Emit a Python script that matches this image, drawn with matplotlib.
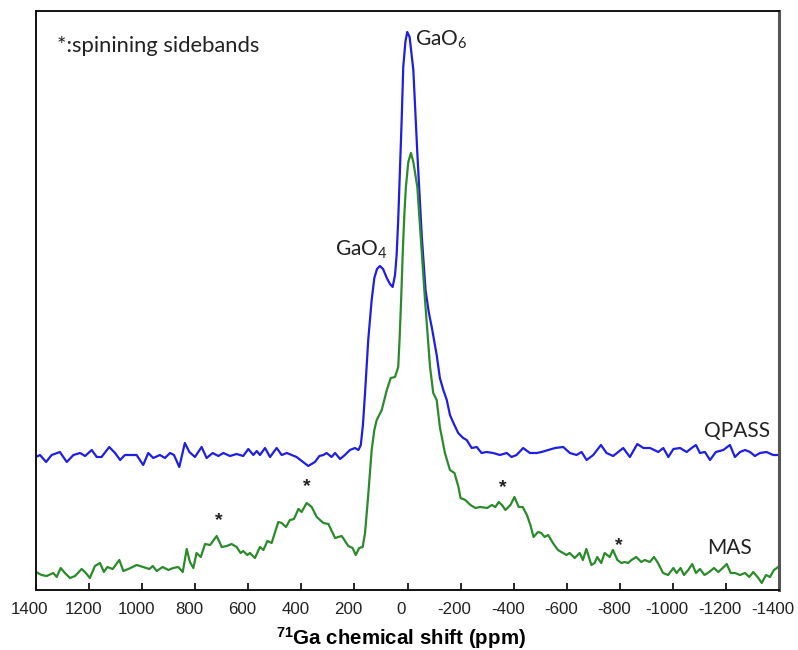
import matplotlib
matplotlib.use("Agg")
import matplotlib.pyplot as plt
import matplotlib.transforms as mtransforms
import numpy as np

plt.rcParams['mathtext.fontset'] = 'custom'
plt.rcParams['mathtext.rm'] = 'Lato'
plt.rcParams['mathtext.bf'] = 'Liberation Sans:bold'

# 71Ga NMR spectra (chemical shift in ppm, intensity in arbitrary units incl. vertical offset)
qpass_ppm = [1400, 1385, 1362, 1341, 1310, 1284, 1259, 1234, 1215, 1190, 1171, 1153, 1124, 1102,
             1083, 1065, 1021, 996, 977, 958, 933, 914, 895, 880, 860, 839, 822, 801, 776, 757,
             734, 713, 694, 669, 644, 619, 600, 581, 568, 556, 537, 518, 493, 474, 455, 418, 374,
             349, 332, 317, 305, 286, 273, 254, 236, 217, 198, 185, 176, 168, 160, 148, 135, 125,
             115, 104, 92, 78, 66, 56, 47, 41, 35, 28, 22, 16, 8, 1, -8, -22, -37, -54, -68, -80,
             -92, -100, -110, -122, -135, -148, -160, -175, -191, -210, -223, -242, -261, -279,
             -298, -323, -348, -374, -392, -411, -436, -461, -487, -505, -531, -556, -587, -612,
             -637, -656, -675, -700, -729, -750, -775, -794, -813, -838, -866, -889, -914, -945,
             -964, -983, -1002, -1027, -1052, -1071, -1087, -1102, -1121, -1140, -1162, -1190,
             -1215, -1234, -1253, -1272, -1291, -1309, -1328, -1353, -1378, -1397]
qpass_int = [133, 135, 128, 135, 138, 128, 135, 137, 134, 140, 133, 133, 143, 137,
             130, 135, 135, 125, 137, 132, 135, 132, 137, 135, 123, 147, 138, 133, 143, 132,
             137, 134, 137, 134, 136, 134, 141, 135, 139, 135, 142, 133, 142, 135, 137, 133, 124,
             128, 134, 135, 137, 133, 137, 131, 135, 140, 142, 140, 145, 165, 197, 250, 290, 312,
             321, 324, 321, 312, 306, 303, 315, 335, 370, 423, 470, 523, 548, 558, 553, 520, 437, 353, 300, 278,
             262, 250, 235, 212, 200, 190, 175, 166, 157, 152, 150, 142, 143, 137,
             138, 137, 135, 137, 133, 135, 142, 137, 137, 138, 140, 142, 143, 137,
             135, 138, 130, 135, 145, 137, 134, 138, 142, 133, 146, 142, 142, 138,
             142, 133, 141, 142, 138, 142, 145, 137, 138, 130, 138, 140,
             145, 133, 138, 140, 138, 134, 137, 138, 135, 135]

mas_ppm = [1400, 1379, 1360, 1335, 1322, 1307, 1291, 1272, 1253, 1228, 1212, 1197, 1178, 1159,
           1144, 1131, 1111, 1086, 1071, 1052, 1021, 996, 973, 960, 945, 923, 901, 883, 864, 847,
           832, 820, 807, 795, 779, 763, 744, 719, 700, 681, 663, 644, 629, 619, 604, 594, 575,
           556, 543, 528, 512, 487, 474, 458, 443, 428, 411, 399, 380, 361, 342, 317, 298, 273,
           248, 223, 207, 195, 182, 169, 160, 148, 135, 125, 116, 97, 78, 63, 47, 35, 30, 24, 18,
           12, 6, -3, -13, -22, -37, -54, -66, -76, -85, -97, -110, -122, -141, -160, -177, -192,
           -200, -218, -237, -256, -274, -300, -318, -331, -344, -356, -369, -388, -403, -419,
           -434, -450, -463, -475, -492, -504, -517, -530, -548, -567, -580, -599, -611, -630,
           -649, -661, -674, -693, -705, -715, -730, -743, -762, -774, -791, -806, -818, -831,
           -844, -862, -881, -894, -913, -929, -944, -963, -982, -1002, -1014, -1029, -1042,
           -1058, -1073, -1087, -1102, -1119, -1137, -1155, -1171, -1188, -1203, -1218, -1234,
           -1253, -1272, -1288, -1303, -1322, -1335, -1351, -1366, -1381, -1397]
mas_int = [18, 15, 14, 17, 13, 22, 17, 12, 14, 21, 17, 12, 24, 27,
           18, 23, 21, 30, 19, 21, 25, 23, 21, 24, 19, 23, 20, 22, 23, 18,
           41, 28, 22, 37, 33, 46, 45, 54, 43, 44, 46, 43, 37, 39, 35, 37, 32,
           43, 40, 49, 47, 68, 67, 63, 70, 71, 81, 78, 87, 83, 73, 67, 66, 52,
           54, 44, 42, 35, 42, 43, 57, 95, 140, 160, 170, 180, 200, 212, 213, 223, 250, 290, 337,
           375, 403, 428, 437, 428, 403, 337, 290, 255, 223, 197, 190, 163, 137, 120, 117, 103,
           92, 90, 85, 82, 83, 82, 85, 83, 88, 85, 80, 85, 93, 83,
           83, 75, 65, 53, 58, 57, 53, 55, 47, 40, 38, 35, 37, 32,
           37, 30, 41, 25, 27, 33, 27, 37, 33, 40, 30, 27, 28, 27,
           30, 33, 28, 30, 28, 33, 27, 17, 15, 22, 17, 22, 15,
           20, 26, 17, 21, 15, 18, 22, 18, 22, 26, 17, 17,
           15, 17, 13, 18, 12, 7, 15, 13, 20, 23]

ticks = [1400, 1200, 1000, 800, 600, 400, 200, 0, -200, -400, -600, -800, -1000, -1200, -1400]
sideband_ppm = [710, 379, -360, -797]
sideband_int = [69, 103, 102, 44]

fig = plt.figure(figsize=(7.98, 6.5), dpi=100)
ax = fig.add_axes([36 / 798, 60 / 650, 743 / 798, 579 / 650])

ax.plot(qpass_ppm, qpass_int, color='#1f1fe0', lw=1.6, solid_joinstyle='round')
ax.plot(mas_ppm, mas_int, color='#2b8a2b', lw=1.6, solid_joinstyle='round')

ax.set_xlim(1400, -1400)
ax.set_ylim(0, 579)
ax.set_yticks([])
ax.set_xticks(ticks)
ax.set_xticklabels([str(t) for t in ticks], fontfamily='Liberation Sans', fontsize=12.2,
                   color='#222222')
ax.tick_params(axis='x', direction='in', length=5, width=1.2, pad=9)

# nudge the tick labels slightly left so the outermost one stays inside the canvas
shift = mtransforms.ScaledTranslation(-6 / 100, 0, fig.dpi_scale_trans)
for lab in ax.get_xticklabels():
    lab.set_transform(lab.get_transform() + shift)

for side in ['left', 'bottom', 'top']:
    ax.spines[side].set_linewidth(1.4)
    ax.spines[side].set_color('#111111')
ax.spines['right'].set_linewidth(2.2)
ax.spines['right'].set_color('#555555')

ax.set_xlabel(r'$\mathbf{^{71}}$Ga chemical shift (ppm)', fontfamily='Liberation Sans',
              fontweight='bold', fontsize=14.8)
ax.xaxis.set_label_coords(0.491, -0.060)

txt = dict(fontfamily='Lato', fontsize=15, color='#222222')
ax.text(0.028, 0.94, '*:spinining sidebands', transform=ax.transAxes, va='center', ha='left',
        fontfamily='Lato', fontsize=15.8, color='#222222')
ax.text(175, 340, r'GaO$_4$', ha='center', va='center', **txt)
ax.text(-28, 550, r'GaO$_6$', ha='left', va='center', **txt)
ax.text(-1242, 159, 'QPASS', ha='center', va='center', **txt)
ax.text(-1215, 42, 'MAS', ha='center', va='center', **txt)
for p, v in zip(sideband_ppm, sideband_int):
    ax.text(p, v, '*', ha='center', va='center', fontfamily='Liberation Sans',
            fontsize=14, fontweight='bold', color='#222222')

fig.savefig('out.png', dpi=100)
